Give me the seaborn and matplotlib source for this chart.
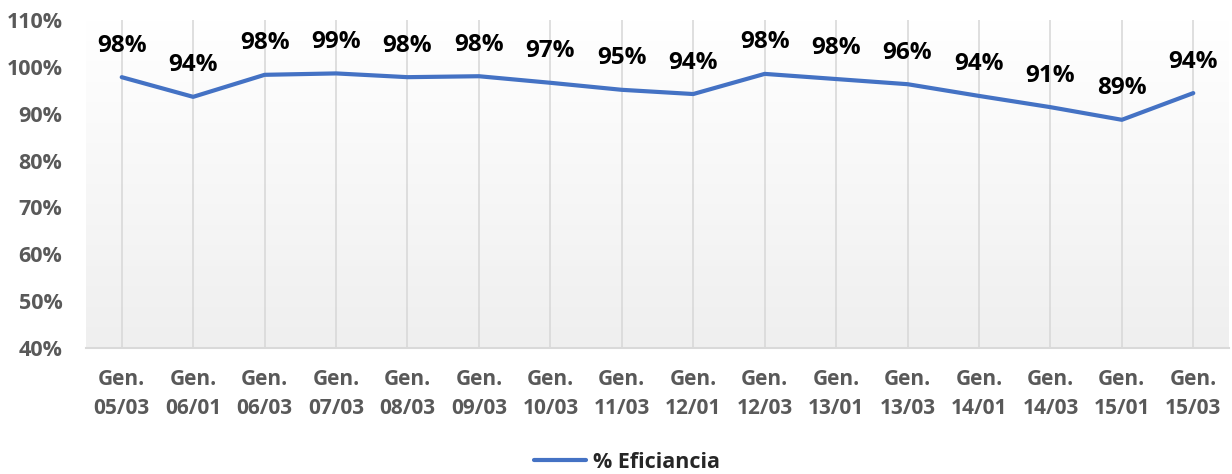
import numpy as np
import pandas as pd
import matplotlib
matplotlib.use('Agg')
import matplotlib.pyplot as plt
import seaborn as sns

# Dados
categorias = ['Gen.\n05/03', 'Gen.\n06/01', 'Gen.\n06/03', 'Gen.\n07/03', 'Gen.\n08/03',
              'Gen.\n09/03', 'Gen.\n10/03', 'Gen.\n11/03', 'Gen.\n12/01', 'Gen.\n12/03',
              'Gen.\n13/01', 'Gen.\n13/03', 'Gen.\n14/01', 'Gen.\n14/03', 'Gen.\n15/01',
              'Gen.\n15/03']
eficiencia = [97.8, 93.6, 98.3, 98.6, 97.8, 98.0, 96.6, 95.1, 94.2, 98.5,
              97.4, 96.3, 93.8, 91.4, 88.7, 94.4]
rotulos = ['98%', '94%', '98%', '99%', '98%', '98%', '97%', '95%', '94%', '98%',
           '98%', '96%', '94%', '91%', '89%', '94%']
yticks = [40, 50, 60, 70, 80, 90, 100, 110]

df = pd.DataFrame({'x': np.arange(len(categorias)), 'valor': eficiencia})

sns.set_theme(style='white')
plt.rcParams['font.family'] = ['Open Sans', 'DejaVu Sans']

fig = plt.figure(figsize=(12.32, 4.74), dpi=100)
ax = fig.add_axes([86 / 1232, 1 - 348 / 474, (1229 - 86) / 1232, (348 - 20) / 474])

n = len(categorias)

# fundo em degradê (branco no topo, cinza claro embaixo)
grad = np.linspace(0, 1, 256).reshape(-1, 1)
cmap = matplotlib.colors.LinearSegmentedColormap.from_list('g', ['#ffffff', '#efefef'])
ax.imshow(grad, extent=[-0.5, n - 0.5, 40, 110], aspect='auto', cmap=cmap,
          origin='upper', zorder=0)
ax.set_xlim(-0.5, n - 0.5)
ax.set_ylim(40, 110)

for i in range(n):
    ax.axvline(i, color='#d9d9d9', linewidth=1.2, zorder=1)

sns.lineplot(data=df, x='x', y='valor', ax=ax, color='#4472c4', linewidth=3,
             label='% Eficiancia', zorder=3)

for i, (v, r) in enumerate(zip(eficiencia, rotulos)):
    ax.annotate(r, (i, v), xytext=(0, 14), textcoords='offset points',
                ha='center', va='bottom', fontsize=17.5, fontweight='bold',
                color='black', zorder=4, annotation_clip=False)

ax.set_xticks(range(n))
ax.set_xticklabels(categorias, fontsize=15, fontweight='bold', color='#595959',
                   linespacing=1.5)
ax.set_yticks(yticks)
ax.set_yticklabels([f'{t}%' for t in yticks], fontsize=15.5, fontweight='bold',
                   color='#595959')
ax.tick_params(axis='both', length=0)
ax.tick_params(axis='y', pad=17)
ax.tick_params(axis='x', pad=15)
ax.set_xlabel('')
ax.set_ylabel('')

for s in ['top', 'left', 'right']:
    ax.spines[s].set_visible(False)
ax.spines['bottom'].set_color('#d9d9d9')
ax.spines['bottom'].set_linewidth(1.5)

ax.legend(loc='center', bbox_to_anchor=(627 / 1232, 12 / 474),
          bbox_transform=fig.transFigure, frameon=False,
          prop={'size': 15.5, 'weight': 'bold'}, handlelength=2.4,
          handletextpad=0.3)

fig.savefig('out.png', dpi=100)
